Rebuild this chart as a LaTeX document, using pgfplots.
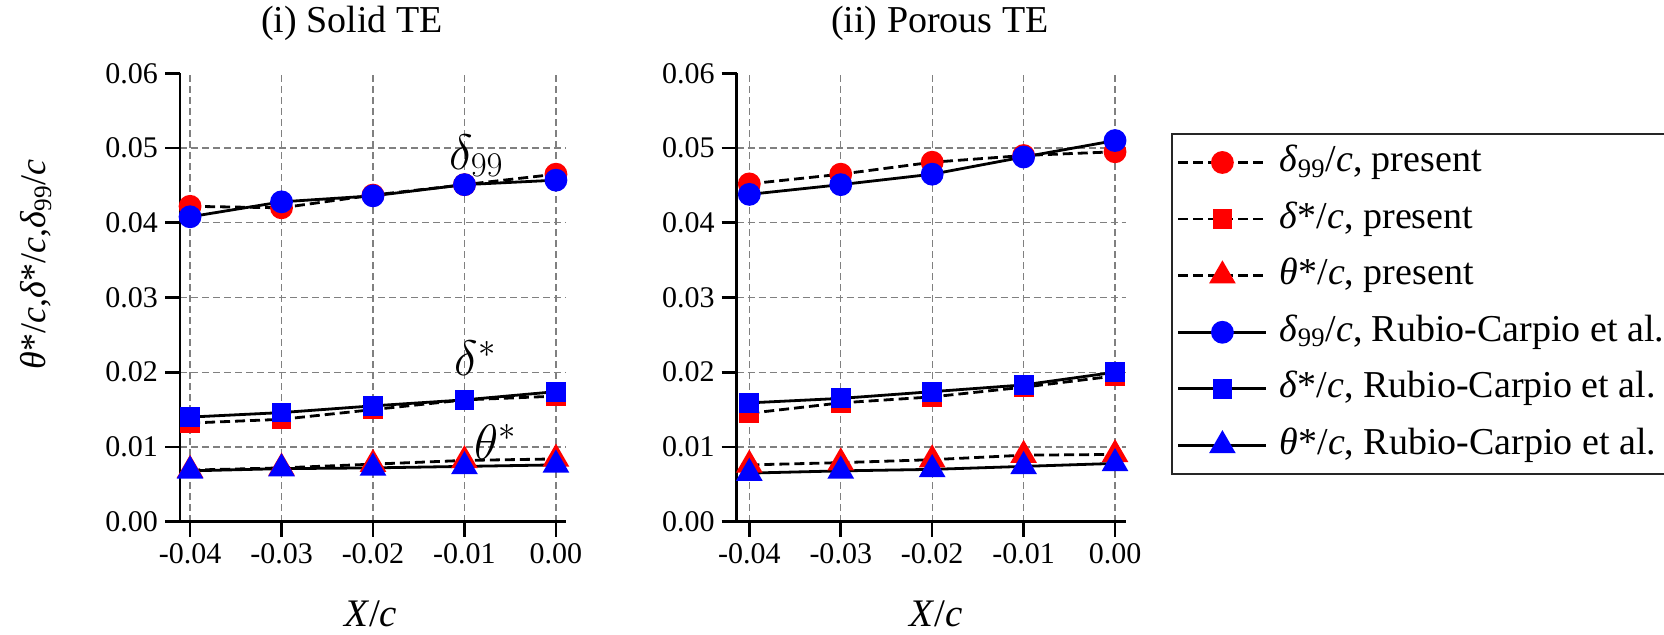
\documentclass[border=0pt]{standalone}
\usepackage{fontspec}
\setmainfont{Liberation Serif}
\usepackage{pgfplots}
\usepackage{pgfplotstable}
\pgfplotsset{compat=1.18}

\pgfplotstableread{
x d99p dsp thp d99r dsr thr
-0.04 0.0422 0.0132 0.0069 0.0408 0.0140 0.0068
-0.03 0.0420 0.0137 0.0072 0.0428 0.0146 0.0071
-0.02 0.0437 0.0150 0.0077 0.0436 0.0155 0.0072
-0.01 0.0451 0.0163 0.0082 0.0451 0.0163 0.0074
0.00 0.0465 0.0168 0.0084 0.0457 0.0174 0.0076
}\solidte

\pgfplotstableread{
x d99p dsp thp d99r dsr thr
-0.04 0.0452 0.0145 0.0076 0.0438 0.0159 0.0065
-0.03 0.0465 0.0159 0.0079 0.0451 0.0165 0.0068
-0.02 0.0481 0.0167 0.0083 0.0465 0.0174 0.0070
-0.01 0.0490 0.0180 0.0089 0.0488 0.0183 0.0074
0.00 0.0495 0.0195 0.0090 0.0510 0.0200 0.0078
}\porouste

\pgfplotsset{
  myaxis/.style={
    scale only axis,
    height=224.2pt,
    axis x line*=bottom, axis y line*=left,
    axis line style={line width=1.3pt, black},
    ymin=0, ymax=0.06,
    scaled ticks=false,
    xtick={-0.04,-0.03,-0.02,-0.01,0},
    xticklabels={-0.04,-0.03,-0.02,-0.01,0.00},
    ytick={0,0.01,0.02,0.03,0.04,0.05},
    yticklabels={0.00,0.01,0.02,0.03,0.04,0.05},
    extra y ticks={0.06}, extra y tick labels={0.06},
    extra y tick style={grid=none},
    grid=major,
    major grid style={black!50, line width=0.6pt, dash pattern=on 3.5pt off 2pt},
    tick align=outside, major tick length=7.5pt,
    tick style={line width=1.3pt, black},
    tick label style={font=\fontsize{15}{18}\selectfont},
    xlabel={\textit{X}/\textit{c}},
    xlabel style={font=\fontsize{19.5}{22}\selectfont, anchor=base},
    title style={font=\fontsize{19}{22}\selectfont, anchor=base},
    clip=false,
  },
  pres/.style={black, line width=1.4pt, dash pattern=on 5pt off 2.5pt,
    mark options={solid, fill=red, draw=red}},
  rub/.style={black, line width=1.4pt, solid,
    mark options={solid, fill=blue, draw=blue}},
  circ/.style={mark=*, mark size=5pt},
  sq/.style={mark=square*, mark size=4.25pt},
  tri/.style={mark=triangle*, mark size=6.3pt},
}

\begin{document}
\begin{tikzpicture}
\path[use as bounding box] (0,0) rectangle (832pt,317.5pt);

\begin{axis}[myaxis,
  at={(90pt,56.65pt)}, anchor=south west,
  width=193pt,
  xmin=-0.0411, xmax=0.0011,
  title={(i) Solid TE},
  title style={at={(axis description cs:0.4456,1.0653)}},
  xlabel style={at={(axis description cs:0.494,-0.2348)}},
  ylabel={\textit{θ}*/\textit{c},\textit{δ}*/\textit{c},\textit{δ}\textsubscript{99}/\textit{c}},
  ylabel style={font=\fontsize{18}{22}\selectfont, at={(axis description cs:-0.373,0.5736)}, anchor=center},
]
\addplot[pres, circ] table[x=x, y=d99p] {\solidte};
\addplot[pres, sq]   table[x=x, y=dsp]  {\solidte};
\addplot[pres, tri]  table[x=x, y=thp]  {\solidte};
\addplot[rub, circ]  table[x=x, y=d99r] {\solidte};
\addplot[rub, sq]    table[x=x, y=dsr]  {\solidte};
\addplot[rub, tri]   table[x=x, y=thr]  {\solidte};
\node[font=\fontsize{25}{30}\selectfont] at (axis cs:-0.0087,0.0490) {$\delta_{99}$};
\node[font=\fontsize{25}{30}\selectfont] at (axis cs:-0.0088,0.0219) {$\delta^{*}$};
\node[font=\fontsize{25}{30}\selectfont] at (axis cs:-0.0066,0.0107) {$\theta^{*}$};
\end{axis}

\begin{axis}[myaxis,
  at={(368.35pt,56.65pt)}, anchor=south west,
  width=194.65pt,
  xmin=-0.04138, xmax=0.0012,
  title={(ii) Porous TE},
  title style={at={(axis description cs:0.522,1.0653)}},
  xlabel style={at={(axis description cs:0.512,-0.2348)}},
  legend cell align=left,
  legend image code/.code={\draw[mark repeat=2,mark phase=2,#1] plot coordinates {(0pt,0pt) (22pt,0pt) (44pt,0pt)};},
  legend style={at={(axis description cs:1.1156,0.8669)}, anchor=north west,
    draw=black!85, line width=1pt, font=\fontsize{19}{22}\selectfont,
    inner xsep=2.5pt, inner ysep=4.75pt, row sep=9.3pt, column sep=6pt,
    nodes={inner sep=0pt, text height=14pt, text depth=5pt}},
]
\addplot[pres, circ] table[x=x, y=d99p] {\porouste};
\addlegendentry{\textit{δ}\textsubscript{99}/\textit{c}, present}
\addplot[pres, sq]   table[x=x, y=dsp]  {\porouste};
\addlegendentry{\textit{δ}*/\textit{c}, present}
\addplot[pres, tri]  table[x=x, y=thp]  {\porouste};
\addlegendentry{\textit{θ}*/\textit{c}, present}
\addplot[rub, circ]  table[x=x, y=d99r] {\porouste};
\addlegendentry{\textit{δ}\textsubscript{99}/\textit{c}, Rubio-Carpio et al.}
\addplot[rub, sq]    table[x=x, y=dsr]  {\porouste};
\addlegendentry{\textit{δ}*/\textit{c}, Rubio-Carpio et al.}
\addplot[rub, tri]   table[x=x, y=thr]  {\porouste};
\addlegendentry{\textit{θ}*/\textit{c}, Rubio-Carpio et al.}
\end{axis}
\end{tikzpicture}
\end{document}
